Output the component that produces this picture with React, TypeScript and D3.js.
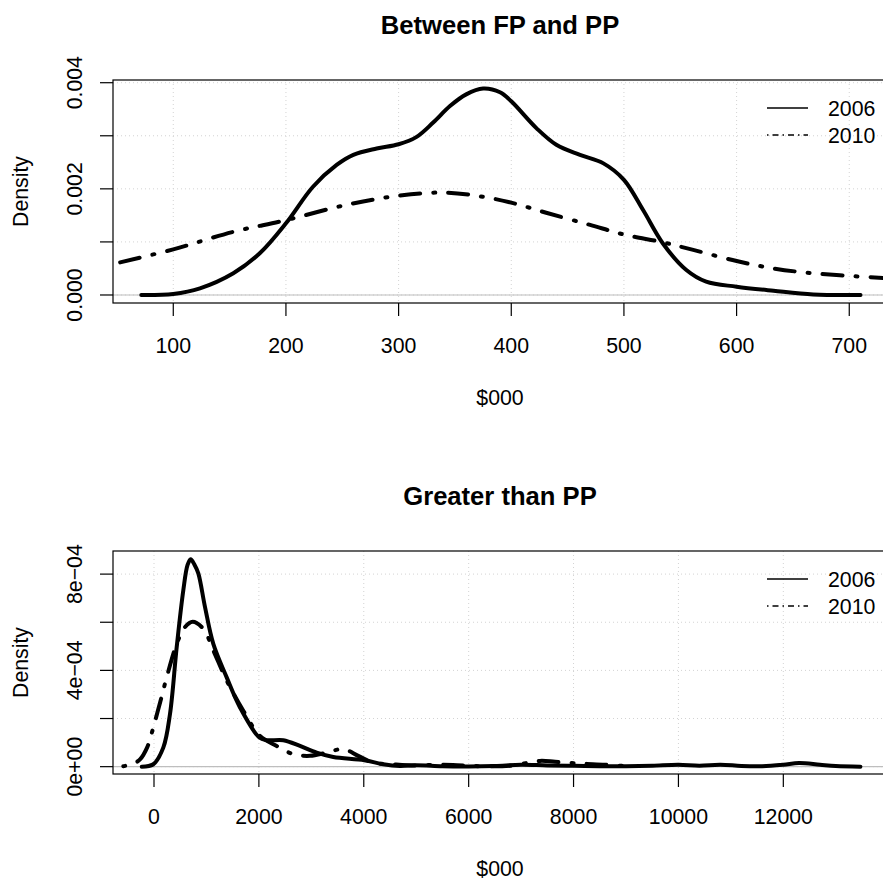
import React, { useEffect, useRef } from 'react'
import { select, scaleLinear, line, curveCatmullRom } from 'd3'

// ---- data (x in $000, y = density) ----
const legendYears = ['2006', '2010']

// panel 1: Between FP and PP
const fpTitle = 'Between FP and PP'
const fp2006 = [
  [71.6, 0], [100, 0.00002], [123.7, 0.000126], [153.3, 0.00041], [177, 0.00079],
  [200, 0.00135], [224, 0.00204], [245, 0.00245], [259.8, 0.00264], [280.5, 0.00276],
  [300, 0.00284], [316, 0.00298], [330.7, 0.00325], [345.6, 0.00356], [360, 0.00378],
  [375, 0.00389], [390, 0.00382], [400, 0.00365], [422.5, 0.00314], [440, 0.00283],
  [461, 0.00264], [481.8, 0.00248], [500, 0.00217], [517, 0.0016], [534.6, 0.00097],
  [555.4, 0.00047], [573, 0.00025], [600, 0.000157], [632.8, 0.00008], [668, 0.00001],
  [710, 0],
]
const fp2010 = [
  [40, 0.00055], [100, 0.00086], [153.3, 0.00119], [200, 0.00141], [254, 0.0017],
  [300, 0.00187], [342, 0.00193], [375, 0.00185], [400, 0.00174], [431, 0.00155],
  [470, 0.00132], [500, 0.00114], [535, 0.00099], [561.5, 0.00085], [600, 0.00064],
  [632.8, 0.0005], [662.4, 0.00042], [700, 0.00036], [740, 0.00031],
]
const fpXTicks = [100, 200, 300, 400, 500, 600, 700]
const fpYTicks = [0, 0.001, 0.002, 0.003, 0.004]
const fpYLabels = ['0.000', '', '0.002', '', '0.004']
const fpXLim = [46.5, 733.5]
const fpYLim = [-0.000151, 0.004051]

// panel 2: Greater than PP
const gpTitle = 'Greater than PP'
const gp2006 = [
  [-234, 0], [-13, 0.00001], [177, 0.000079], [305, 0.000219], [433, 0.000497],
  [559, 0.000733], [640, 0.000838], [699, 0.000862], [770, 0.00084], [845, 0.000803],
  [972, 0.000664], [1131, 0.00051], [1386, 0.000371], [1640, 0.000246], [2008, 0.000121],
  [2148, 0.00011], [2466, 0.00011], [2784, 0.000086], [3102, 0.000058], [3419, 0.00004],
  [4010, 0.000027], [4372, 0.00001], [4690, 0.000003], [5000, 0.000006], [5500, 0.000002],
  [6000, 0.000001], [6500, 0.000003], [7000, 0.000008], [7500, 0.000005], [8000, 0.000004],
  [8500, 0.000002], [9000, 0.000002], [9500, 0.000004], [10000, 0.000008], [10400, 0.000004],
  [10800, 0.000008], [11200, 0.000003], [11600, 0.000002], [12000, 0.000008],
  [12300, 0.000015], [12700, 0.000008], [13000, 0.000003], [13470, 0],
]
const gp2010 = [
  [-585, 0.000002], [-420, 0.00001], [-267, 0.00003], [-130, 0.00008], [-13, 0.000163],
  [120, 0.00027], [242, 0.000371], [433, 0.00051], [591, 0.00058], [737, 0.000602],
  [940, 0.000573], [1131, 0.000483], [1386, 0.000358], [1703, 0.000232], [2021, 0.000128],
  [2339, 0.000086], [2656, 0.000052], [2974, 0.000045], [3293, 0.000058], [3609, 0.000073],
  [3895, 0.000045], [4181, 0.000017], [4562, 0.00001], [5000, 0.000005], [5400, 0.000008],
  [5700, 0.000007], [6200, 0.000002], [6800, 0.000004], [7360, 0.000024], [7650, 0.00002],
  [8120, 0.000013], [8600, 0.000008], [9000, 0.000002],
]
const gpXTicks = [0, 2000, 4000, 6000, 8000, 10000, 12000]
const gpYTicks = [0, 0.0002, 0.0004, 0.0006, 0.0008]
const gpYLabels = ['0e+00', '', '4e\u221204', '', '8e\u221204']
const gpXLim = [-781.8, 13977]
const gpYLim = [-0.0000305, 0.000896]

const xTitle = '$000'
const yTitle = 'Density'

const font = "'Liberation Sans', Arial, Helvetica, sans-serif"

const panels = [
  { key: 'fp', title: fpTitle, s2006: fp2006, s2010: fp2010, xTicks: fpXTicks, yTicks: fpYTicks, yLabels: fpYLabels, xlim: fpXLim, ylim: fpYLim, top: 80 },
  { key: 'gp', title: gpTitle, s2006: gp2006, s2010: gp2010, xTicks: gpXTicks, yTicks: gpYTicks, yLabels: gpYLabels, xlim: gpXLim, ylim: gpYLim, top: 551 },
]

const App = () => {
  const ref = useRef<SVGSVGElement>(null)

  useEffect(() => {
    const config = {
      width: 883,
      height: 882,
      left: 113,
      right: 887,
      plotheight: 223,
      ticklen: 13,
      axisfont: 21.3,
      titlefont: 25.6,
      lwd: 4,
    }
    const svg = select(ref.current)
    svg.selectAll('*').remove()

    panels.forEach((p) => {
      const top = p.top
      const bottom = top + config.plotheight
      const x = scaleLinear().domain(p.xlim).range([config.left, config.right])
      const y = scaleLinear().domain(p.ylim).range([bottom, top])
      const g = svg.append('g').attr('class', 'panel-' + p.key)

      const clipId = 'clip-' + p.key
      g.append('clipPath').attr('id', clipId)
        .append('rect')
        .attr('x', config.left).attr('y', top)
        .attr('width', config.right - config.left).attr('height', config.plotheight)

      // grid (dotted lightgray)
      g.selectAll('.vgrid').data(p.xTicks).join('line').attr('class', 'vgrid')
        .attr('x1', (d) => x(d)).attr('x2', (d) => x(d))
        .attr('y1', top).attr('y2', bottom)
        .attr('stroke', '#d3d3d3').attr('stroke-width', 1).attr('stroke-dasharray', '1 3')
      g.selectAll('.hgrid').data(p.yTicks).join('line').attr('class', 'hgrid')
        .attr('x1', config.left).attr('x2', config.right)
        .attr('y1', (d) => y(d)).attr('y2', (d) => y(d))
        .attr('stroke', '#d3d3d3').attr('stroke-width', 1).attr('stroke-dasharray', '1 3')

      // zero line
      g.append('line')
        .attr('x1', config.left).attr('x2', config.right)
        .attr('y1', y(0)).attr('y2', y(0))
        .attr('stroke', '#bebebe').attr('stroke-width', 1.2)

      const path = line<number[]>().x((d) => x(d[0])).y((d) => y(d[1])).curve(curveCatmullRom.alpha(0.5))

      g.append('path').datum(p.s2010)
        .attr('clip-path', `url(#${clipId})`)
        .attr('d', path).attr('fill', 'none').attr('stroke', '#000')
        .attr('stroke-width', config.lwd).attr('stroke-linecap', 'round').attr('stroke-linejoin', 'round')
        .attr('stroke-dasharray', '2 13 20 13')
      g.append('path').datum(p.s2006)
        .attr('clip-path', `url(#${clipId})`)
        .attr('d', path).attr('fill', 'none').attr('stroke', '#000')
        .attr('stroke-width', config.lwd).attr('stroke-linecap', 'round').attr('stroke-linejoin', 'round')

      // box
      g.append('rect')
        .attr('x', config.left).attr('y', top)
        .attr('width', config.right - config.left).attr('height', config.plotheight)
        .attr('fill', 'none').attr('stroke', '#000').attr('stroke-width', 1.2)

      // x axis
      g.selectAll('.xtick').data(p.xTicks).join('line').attr('class', 'xtick')
        .attr('x1', (d) => x(d)).attr('x2', (d) => x(d))
        .attr('y1', bottom).attr('y2', bottom + config.ticklen)
        .attr('stroke', '#000').attr('stroke-width', 1.2)
      g.selectAll('.xlab').data(p.xTicks).join('text').attr('class', 'xlab')
        .attr('x', (d) => x(d)).attr('y', bottom + 49.7)
        .attr('text-anchor', 'middle')
        .attr('font-family', font).attr('font-size', config.axisfont)
        .text((d) => String(d))

      // y axis
      g.selectAll('.ytick').data(p.yTicks).join('line').attr('class', 'ytick')
        .attr('x1', config.left).attr('x2', config.left - config.ticklen)
        .attr('y1', (d) => y(d)).attr('y2', (d) => y(d))
        .attr('stroke', '#000').attr('stroke-width', 1.2)
      g.selectAll('.ylab').data(p.yTicks).join('text').attr('class', 'ylab')
        .attr('transform', (d) => `translate(82, ${y(d)}) rotate(-90)`)
        .attr('text-anchor', 'middle')
        .attr('font-family', font).attr('font-size', config.axisfont)
        .text((d, i) => p.yLabels[i])

      // titles
      const cx = (config.left + config.right) / 2
      g.append('text')
        .attr('x', cx).attr('y', top - 46)
        .attr('text-anchor', 'middle').attr('font-weight', 'bold')
        .attr('font-family', font).attr('font-size', config.titlefont)
        .text(p.title)
      g.append('text')
        .attr('x', cx).attr('y', bottom + 102)
        .attr('text-anchor', 'middle')
        .attr('font-family', font).attr('font-size', config.axisfont)
        .text(xTitle)
      g.append('text')
        .attr('transform', `translate(28, ${(top + bottom) / 2}) rotate(-90)`)
        .attr('text-anchor', 'middle')
        .attr('font-family', font).attr('font-size', config.axisfont)
        .text(yTitle)

      // legend (topright, no box)
      const leg = g.selectAll('.legend').data(legendYears).join('g').attr('class', 'legend')
        .attr('transform', (d, i) => `translate(0, ${top + 28 + i * 27})`)
      leg.append('line')
        .attr('x1', config.right - 120).attr('x2', config.right - 79)
        .attr('y1', 0).attr('y2', 0)
        .attr('stroke', '#000').attr('stroke-width', 1.3)
        .attr('stroke-dasharray', (d, i) => (i === 0 ? null : '1.5 4 6 4'))
      leg.append('text')
        .attr('x', config.right - 59).attr('y', 7.7)
        .attr('font-family', font).attr('font-size', config.axisfont)
        .text((d) => d)
    })
  }, [])

  return (
    <div style={{ position: 'absolute', left: 0, top: 0 }}>
      <svg ref={ref} width={883} height={882} style={{ display: 'block', background: '#fff' }} />
    </div>
  )
}

export default App
